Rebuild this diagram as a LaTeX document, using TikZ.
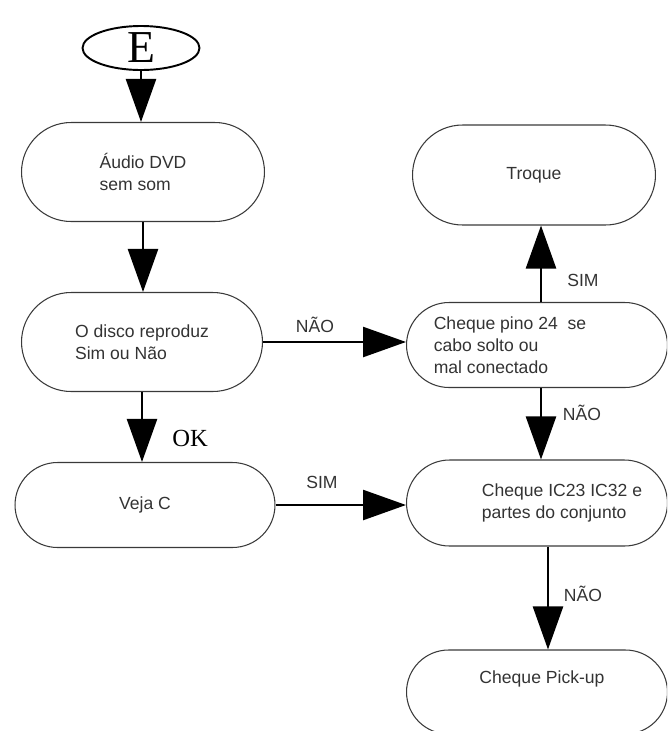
\documentclass[tikz,border=0pt]{standalone}
\usepackage{fontspec}
\setmainfont{Liberation Sans}
\newfontfamily\timesfont{Liberation Serif}
\usetikzlibrary{arrows.meta,shapes.geometric,shapes.misc,calc}
\definecolor{cA}{HTML}{000000}
\definecolor{cB}{HTML}{333333}
\definecolor{cG}{HTML}{3a3a3a}
\tikzset{
  termtxt/.style={text=cB,align=left,font=\fontsize{10}{12.5}\selectfont,inner sep=0pt},
  term/.style={termtxt,rounded rectangle,draw=cG,line width=0.6pt},
  startnode/.style={ellipse,draw=cA,line width=1.1pt,inner sep=0pt,
              font=\timesfont\fontsize{26}{26}\selectfont},
  flowarrow/.style={-{Triangle[length=0.86cm,width=0.6cm]},line width=1.4pt,cA},
  lab/.style={text=cB,font=\fontsize{10}{12}\selectfont,inner sep=0pt},
  oklab/.style={text=cA,font=\timesfont\fontsize{14}{14}\selectfont,inner sep=0pt},
}

\begin{document}
\begin{tikzpicture}[x=0.02cm,y=-0.02cm]
  \useasboundingbox (0,0) rectangle (667,731);
  \clip (0,0) rectangle (667,731);
  % left column
  \node[startnode,minimum width=2.34cm,minimum height=0.88cm] (E) at (141,48) {E};
  \node[term,minimum width=4.86cm,minimum height=1.98cm] (audio) at (143,172) {Áudio DVD\\sem som};
  \node[term,minimum width=4.82cm,minimum height=1.98cm] (disco) at (142,342) {O disco reproduz\\Sim ou Não};
  \node[term,minimum width=5.2cm,minimum height=1.7cm] (veja) at (145,505) {Veja C};
  % right column
  \node[term,minimum width=4.86cm,minimum height=2cm] (troque) at (534,175) {Troque};
  \node[term,minimum width=5.22cm,minimum height=1.7cm] (pino) at (537,345) {};
  \node[termtxt] (pinoT) at ($(pino.center)+(-27,0)$) {Cheque pino 24\ \ se\\cabo solto ou\\mal conectado};
  \node[term,minimum width=5.22cm,minimum height=1.72cm] (ic) at (537,503) {};
  \node[termtxt] (icT) at ($(ic.center)+(25,0)$) {Cheque IC23 IC32 e\\partes do conjunto};
  \node[term,minimum width=5.22cm,minimum height=1.68cm] (pick) at (537,692) {};
  \node[termtxt] (pickT) at ($(pick.center)+(5,-13)$) {Cheque Pick-up};
  % connectors
  \draw[flowarrow] (E.south) -- (E.south |- audio.north);
  \draw[flowarrow] (audio.south) -- (audio.south |- disco.north);
  \draw[flowarrow] (disco.south) -- (disco.south |- veja.north);
  \node[oklab,anchor=west] (ok) at (172,438) {OK};
  \draw[flowarrow] (disco.east) -- (disco.east -| pino.west);
  \node[lab] (nao1) at (315,325) {NÃO};
  \draw[flowarrow] (veja.east) -- (veja.east -| ic.west);
  \node[lab] (sim1) at (322,482) {SIM};
  \coordinate (pinoTop) at ($(pino.north)+(4,0)$);
  \coordinate (pinoBot) at ($(pino.south)+(4,0)$);
  \coordinate (icBot) at ($(ic.south)+(11,0)$);
  \draw[flowarrow] (pinoTop) -- (pinoTop |- troque.south);
  \node[lab] (sim2) at (583,280) {SIM};
  \draw[flowarrow] (pinoBot) -- (pinoBot |- ic.north);
  \node[lab] (nao2) at (582,413) {NÃO};
  \draw[flowarrow] (icBot) -- (icBot |- pick.north);
  \node[lab] (nao3) at (583,594) {NÃO};
\end{tikzpicture}
\end{document}
